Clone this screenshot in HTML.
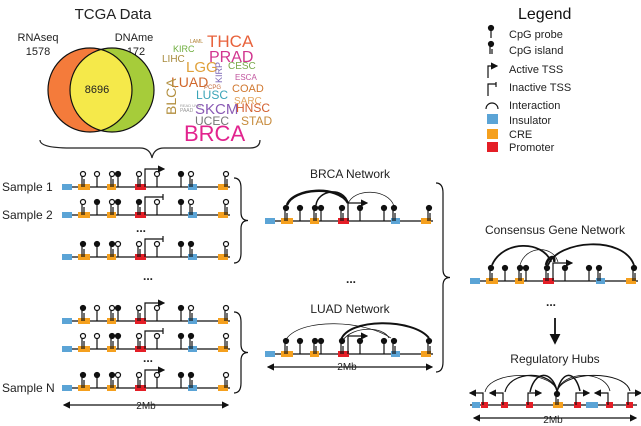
<!DOCTYPE html><html><head><style>body{margin:0;background:#fff}svg{display:block}text{font-family:"Liberation Sans",sans-serif}</style></head><body>
<svg id="s" width="641" height="426" viewBox="0 0 641 426" xmlns="http://www.w3.org/2000/svg">
<defs><marker id="ah" markerWidth="6" markerHeight="6" refX="5" refY="3" orient="auto"><path d="M0,0L6,3L0,6z" fill="#111"/></marker>
<marker id="ah2" markerWidth="6" markerHeight="6" refX="1" refY="3" orient="auto"><path d="M6,0L0,3L6,6z" fill="#111"/></marker></defs>
<text x="113" y="19" font-size="15" text-anchor="middle" fill="#222">TCGA Data</text>
<text x="38" y="41" font-size="11" text-anchor="middle" fill="#222">RNAseq</text>
<text x="38" y="55" font-size="11" text-anchor="middle" fill="#222">1578</text>
<text x="134" y="41" font-size="11" text-anchor="middle" fill="#222">DNAme</text>
<text x="136" y="55" font-size="11" text-anchor="middle" fill="#222">172</text>
<circle cx="90" cy="90" r="42" fill="#f47b3b"/>
<circle cx="112" cy="90" r="42" fill="#a6cc3a"/>
<clipPath id="c1"><circle cx="90" cy="90" r="42"/></clipPath>
<circle cx="112" cy="90" r="42" fill="#f5e94a" clip-path="url(#c1)"/>
<circle cx="90" cy="90" r="42" fill="none" stroke="#111" stroke-width="1.2"/>
<circle cx="112" cy="90" r="42" fill="none" stroke="#111" stroke-width="1.2"/>
<text x="97" y="93" font-size="11" text-anchor="middle" fill="#222">8696</text>
<g font-size="10">
<text x="207" y="47" font-size="17" fill="#e8623b">THCA</text>
<text x="209" y="62" font-size="16" fill="#d1368f">PRAD</text>
<text x="173" y="52" font-size="9" fill="#6fae3f">KIRC</text>
<text x="190" y="43" font-size="5" fill="#b07d2d">LAML</text>
<text x="162" y="62" font-size="10" fill="#a88a3c">LIHC</text>
<text x="186" y="72" font-size="15" fill="#e0a13a">LGG</text>
<text x="228" y="69" font-size="10" fill="#7aa84a">CESC</text>
<text x="235" y="80" font-size="8" fill="#c0549d">ESCA</text>
<text x="232" y="92" font-size="11" fill="#d0782f">COAD</text>
<text x="171" y="87" font-size="14" fill="#d0672c">LUAD</text>
<text x="196" y="99" font-size="12" fill="#3aa4b7">LUSC</text>
<text x="234" y="104" font-size="10" fill="#e3a660">SARC</text>
<text x="195" y="114" font-size="15" fill="#8a5bb5">SKCM</text>
<text x="236" y="112" font-size="12" fill="#d25f2f">HNSC</text>
<text x="241" y="125" font-size="12" fill="#c68a3b">STAD</text>
<text x="195" y="125" font-size="12" fill="#777">UCEC</text>
<text x="184" y="141" font-size="22" fill="#e2238e">BRCA</text>
<text x="204" y="89" font-size="6" fill="#c36a3c">PCPG</text>
<text transform="translate(176,115) rotate(-90)" font-size="14" fill="#b39040">BLCA</text>
<text transform="translate(222,83) rotate(-90)" font-size="9" fill="#7b66b5">KIRP</text>
<text x="180" y="107" font-size="4" fill="#999">READ UVM</text>
<text x="180" y="112" font-size="5" fill="#999">PAAD</text>
</g>
<path d="M40,140 Q40,148 70,148 L140,148 Q150,148 152,158 Q154,148 164,148 L250,148 Q260,148 260,140" fill="none" stroke="#222" stroke-width="1.2"/>
<text x="518" y="19" font-size="16" fill="#111">Legend</text>
<g font-size="11" fill="#222"><text x="509" y="38">CpG probe</text><text x="509" y="54">CpG island</text><text x="509" y="73">Active TSS</text><text x="509" y="91">Inactive TSS</text><text x="509" y="109">Interaction</text><text x="509" y="124">Insulator</text><text x="509" y="138">CRE</text><text x="509" y="151">Promoter</text></g>
<rect x="487" y="114" width="11" height="10" fill="#5ba4d6"/><rect x="487" y="129" width="11" height="10" fill="#f5a01e"/><rect x="487" y="142" width="11" height="10" fill="#e41e26"/>
<path d="M486,109 A6,6 0 0 1 498,109" fill="none" stroke="#111" stroke-width="1.2"/>
<g id="g" stroke="#111" fill="none" stroke-width="1.2"></g>
<g font-size="12" fill="#222"><text x="2" y="191">Sample 1</text><text x="2" y="219">Sample 2</text><text x="2" y="392">Sample N</text>
<text x="136" y="232" font-weight="bold">...</text><text x="143" y="280" font-weight="bold">...</text><text x="143" y="362" font-weight="bold">...</text><text x="346" y="283" font-weight="bold">...</text><text x="546" y="306" font-weight="bold">...</text>
<text x="350" y="178" text-anchor="middle">BRCA Network</text><text x="350" y="313" text-anchor="middle">LUAD Network</text>
<text x="555" y="234" text-anchor="middle">Consensus Gene Network</text><text x="555" y="363" text-anchor="middle">Regulatory Hubs</text></g>
<g font-size="10" fill="#222" text-anchor="middle"><text x="146" y="409">2Mb</text><text x="347" y="370">2Mb</text><text x="553" y="423">2Mb</text></g>
</svg>
<script>
const g=document.getElementById('g');const NS='http://www.w3.org/2000/svg';
function el(t,a){const e=document.createElementNS(NS,t);for(const k in a)e.setAttribute(k,a[k]);g.appendChild(e);return e}
function rect(x,y,w,c){el('rect',{x:x,y:y-3,width:w,height:6,fill:c,stroke:'none'})}
function probe(x,y,f,isl,h){h=h||11;el('line',{x1:x,y1:y,x2:x,y2:y-h});if(isl)el('line',{x1:x+2,y1:y,x2:x+2,y2:y-h+3});el('circle',{cx:x+(isl?1:0),cy:y-h-2,r:2.5,fill:f?'#111':'#fff'})}
function track(ox,y,sc,pr){el('line',{x1:ox,y1:y,x2:ox+168*sc,y2:y});
const X=v=>ox+(v-62)*sc;rect(X(62),y,10*sc,'#5ba4d6');rect(X(78),y,12*sc,'#f5a01e');rect(X(107),y,9*sc,'#f5a01e');rect(X(135),y,11*sc,'#e41e26');rect(X(188),y,9*sc,'#5ba4d6');rect(X(218),y,10*sc,'#f5a01e');
const xs=[[82,1],[97,0],[111,1],[118,0],[138,1],[157,0],[181,0],[190,1],[225,1]];xs.forEach((p,i)=>probe(X(p[0]),y,pr?pr[i]:1,p[1]));return X}
function tss(x,y,act,len){el('path',{d:`M${x},${y} V${y-18} H${x+len}`});if(act)el('line',{x1:x+len-1,y1:y-18,x2:x+len+1,y2:y-18,'marker-end':'url(#ah)'});else el('line',{x1:x+len,y1:y-21,x2:x+len,y2:y-15})}
const P=[[0,0,0,1,0,0,1,0,0],[0,1,0,1,1,0,1,0,0],[1,1,1,0,0,0,1,1,0],[1,0,0,1,0,0,1,0,0],[0,0,1,1,0,0,1,1,0],[1,1,1,0,0,0,1,1,0]];
[[187,1],[215,0],[257,0],[321,1],[349,0],[388,1]].forEach((r,i)=>{const X=track(62,r[0],1,P[i]);tss(X(145),r[0],r[1],18)});
el('line',{x1:64,y1:405,x2:228,y2:405,'marker-end':'url(#ah)','marker-start':'url(#ah2)'});
function brace(x,y1,y2,d){const m=(y1+y2)/2;el('path',{d:`M${x},${y1} Q${x+d},${y1} ${x+d},${y1+10} L${x+d},${m-8} Q${x+d},${m} ${x+2*d},${m} Q${x+d},${m} ${x+d},${m+8} L${x+d},${y2-10} Q${x+d},${y2} ${x},${y2}`})}
brace(234,178,263,7);brace(234,312,393,7);brace(436,183,372,7);
let X=track(265,221,1);tss(X(145),221,1,18);
el('path',{d:`M${X(84)},205 C${X(90)},188 ${X(135)},185 ${X(145)},203`,'stroke-width':2.5});
el('path',{d:`M${X(113)},205 C${X(115)},190 ${X(140)},186 ${X(145)},203`,'stroke-width':1.5});
el('path',{d:`M${X(145)},204 C${X(150)},188 ${X(185)},188 ${X(191)},206`,'stroke-width':0.7});
X=track(265,354,1);tss(X(145),354,1,18);
el('path',{d:`M${X(84)},338 C${X(100)},318 ${X(160)},320 ${X(188)},338`,'stroke-width':0.7});
el('path',{d:`M${X(138)},340 C${X(145)},318 ${X(210)},318 ${X(226)},338`,'stroke-width':2});
el('path',{d:`M${X(140)},340 C${X(150)},326 ${X(180)},326 ${X(186)},338`,'stroke-width':0.8});
el('line',{x1:268,y1:367,x2:432,y2:367,'marker-end':'url(#ah)','marker-start':'url(#ah2)'});
X=track(470,281,1);tss(X(145),281,1,18);
el('path',{d:`M${X(84)},265 C${X(95)},240 ${X(135)},240 ${X(143)},262`,'stroke-width':1.8});
el('path',{d:`M${X(112)},265 C${X(118)},245 ${X(145)},245 ${X(150)},262`,'stroke-width':0.7});
el('path',{d:`M${X(140)},265 C${X(150)},240 ${X(215)},235 ${X(226)},265`,'stroke-width':1.8});
el('path',{d:`M${X(138)},265 C${X(140)},255 ${X(148)},255 ${X(146)},262`,'stroke-width':2.5});
el('line',{x1:555,y1:318,x2:555,y2:343,'stroke-width':1.8,'marker-end':'url(#ah)'});
const hy=405;el('line',{x1:470,y1:hy,x2:637,y2:hy});
[[472,8,'#5ba4d6'],[481,7,'#e41e26'],[501,7,'#e41e26'],[526,7,'#e41e26'],[553,10,'#f5a01e'],[574,7,'#e41e26'],[586,12,'#5ba4d6'],[606,7,'#e41e26'],[626,7,'#e41e26']].forEach(r=>rect(r[0],hy,r[1],r[2]));
probe(556,hy,1,1,9);
[[483,1,-1],[503,1,-1],[528,1,1],[576,1,1],[608,1,-1],[628,1,1]].forEach(t=>{const x=t[0];el('path',{d:`M${x},${hy} V${hy-12} H${x+12*t[2]}`});el('line',{x1:x+12*t[2]-1*t[2],y1:hy-12,x2:x+13*t[2],y2:hy-12,'marker-end':'url(#ah)'})});
[[485,0.8],[505,1.2],[530,1.5],[580,1.5],[610,0.8],[630,1]].forEach(a=>{const x=a[0],c=557;el('path',{d:`M${Math.min(x,c)},${hy-13} C${Math.min(x,c)+5},${hy-35} ${Math.max(x,c)-5},${hy-35} ${Math.max(x,c)},${hy-14}`,'stroke-width':a[1]})});
el('line',{x1:474,y1:418,x2:636,y2:418,'marker-end':'url(#ah)','marker-start':'url(#ah2)'});
(function(){probe(491,38,1,0,8);probe(490,54,1,1,8);el('path',{d:'M488,78 V66 H496','stroke-width':1.2});el('line',{x1:495,y1:66,x2:497,y2:66,'marker-end':'url(#ah)'});el('path',{d:'M488,96 V84 H496 M496,82 V87'})})();
</script>
</body></html>
